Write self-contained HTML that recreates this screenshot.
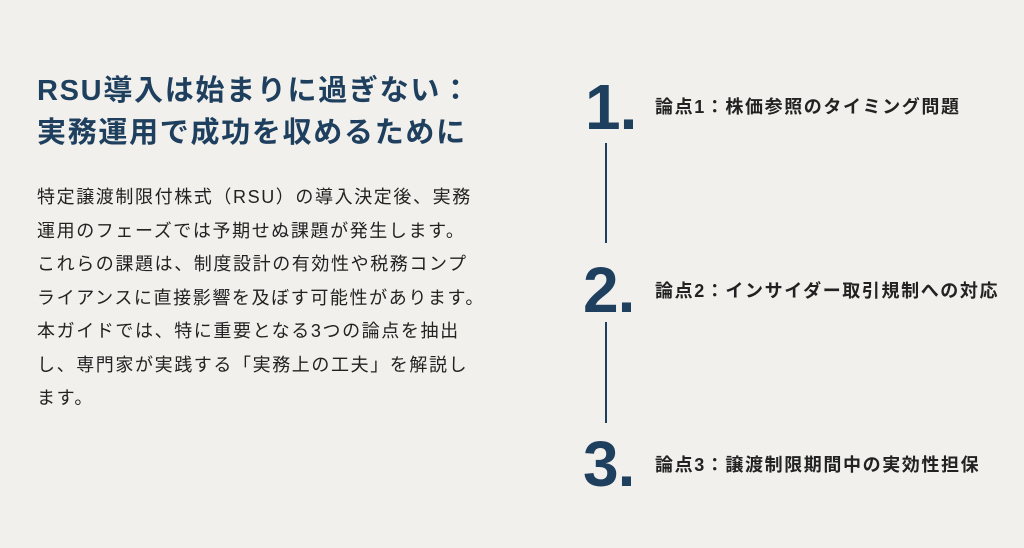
<!DOCTYPE html>
<html><head><meta charset="utf-8"><style>
body{margin:0;width:1024px;height:548px;background:#f1f0ec;position:relative;overflow:hidden;font-family:"Liberation Sans","Noto Sans CJK JP",sans-serif;}
.t{position:absolute;left:37px;top:70px;font-size:29px;font-weight:bold;color:#1f3f5e;line-height:42px;letter-spacing:1.7px;white-space:nowrap}
.b{position:absolute;left:37px;top:181px;font-size:18px;color:#222;line-height:33.5px;letter-spacing:1.6px;white-space:nowrap}
.n{position:absolute;font-size:64px;font-weight:bold;color:#1f3f5e;line-height:1;letter-spacing:-1px}
.l{position:absolute;left:655px;font-size:18px;font-weight:bold;color:#222;white-space:nowrap;letter-spacing:1.6px}
.v{position:absolute;left:605px;width:2px;background:#1f3f5e}
</style></head><body>
<div class="t">RSU導入は始まりに過ぎない：<br>実務運用で成功を収めるために</div>
<div class="b">特定譲渡制限付株式（RSU）の導入決定後、実務<br>運用のフェーズでは予期せぬ課題が発生します。<br>これらの課題は、制度設計の有効性や税務コンプ<br>ライアンスに直接影響を及ぼす可能性があります。<br>本ガイドでは、特に重要となる3つの論点を抽出<br>し、専門家が実践する「実務上の工夫」を解説し<br>ます。</div>
<div class="n" style="left:585px;top:75px">1.</div>
<div class="l" style="top:93px">論点1：株価参照のタイミング問題</div>
<div class="v" style="top:143px;height:100px"></div>
<div class="n" style="left:583px;top:258px">2.</div>
<div class="l" style="top:277px">論点2：インサイダー取引規制への対応</div>
<div class="v" style="top:322px;height:101px"></div>
<div class="n" style="left:583px;top:432px">3.</div>
<div class="l" style="top:451px">論点3：譲渡制限期間中の実効性担保</div>
</body></html>
